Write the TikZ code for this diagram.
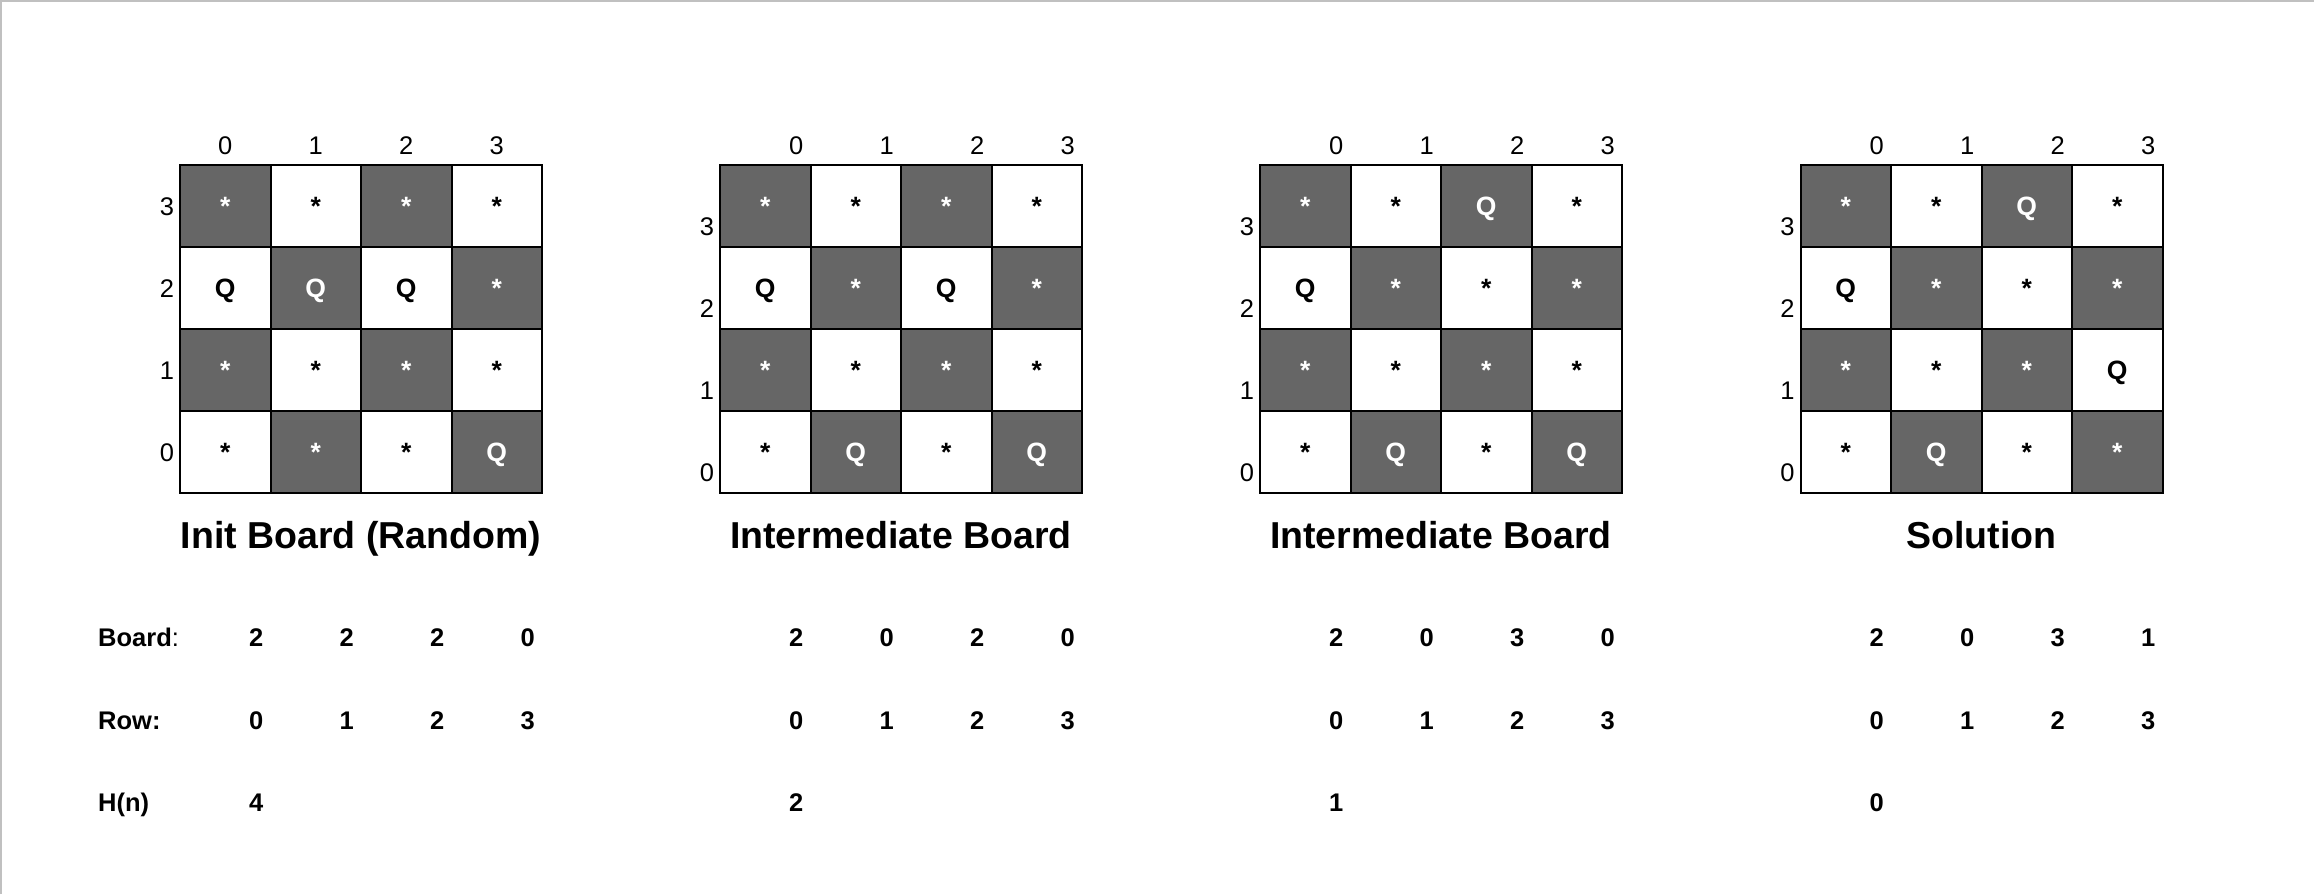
\documentclass[tikz,border=0pt]{standalone}
\usepackage{fontspec}
\setmainfont{Liberation Sans}
\definecolor{darkcell}{HTML}{666666}
\definecolor{framegray}{HTML}{C0C0C0}
\tikzset{
  cellbox/.style={draw=black, line width=2pt, minimum width=90.5pt, minimum height=82pt, inner sep=0pt, outer sep=0pt},
  celltxt/.style={anchor=base, inner sep=0pt, font=\fontsize{26.5}{30}\selectfont\bfseries},
  axislbl/.style={anchor=base, inner sep=0pt, font=\fontsize{25.5}{30}\selectfont},
  titletxt/.style={anchor=base, inner sep=0pt, font=\fontsize{37.5}{44}\selectfont\bfseries},
  datatxt/.style={anchor=base, inner sep=0pt, font=\fontsize{25.5}{30}\selectfont\bfseries},
  datalbl/.style={anchor=base west, inner sep=0pt, font=\fontsize{25.5}{30}\selectfont\bfseries},
}
% #1 id, #2 left x, #3 column-label x offset, #4 row-label y offset, #5 title, #6-#9 rows 3..0
\newcommand{\qboard}[9]{%
  \foreach \rowdata [count=\ri from 0] in {{#6},{#7},{#8},{#9}} {
    \foreach \qv [count=\ci from 0] in \rowdata {
      \pgfmathtruncatemacro{\rr}{3-\ri}
      \pgfmathtruncatemacro{\oddc}{mod(\ci+\rr,2)}
      \ifnum\oddc=1 \def\fillc{darkcell}\def\textc{white}\else\def\fillc{white}\def\textc{black}\fi
      \node[cellbox, fill=\fillc] (c#1-\ci-\rr) at ({#2+45.25+90.5*\ci},{206+82*\ri}) {};
      \node[celltxt, text=\textc] (t#1-\ci-\rr) at ([yshift=-9.5pt]c#1-\ci-\rr.center) {\qv};
    }
  }
  \foreach \ci in {0,...,3} {
    \node[axislbl] (x#1-\ci) at ({#2+45.25+90.5*\ci+#3}, 154) {\ci};
  }
  \foreach \rr in {0,...,3} {
    \node[axislbl] (y#1-\rr) at ({#2-13}, {215.5+82*(3-\rr)+#4}) {\rr};
  }
  \node[titletxt] (title#1) at ({#2+181}, 548) {#5};
}
\begin{document}
\begin{tikzpicture}[x=1pt, y=-1pt]
\useasboundingbox (0,0) rectangle (2314,894);
\fill[white] (0,0) rectangle (2314,894);
\draw[framegray, line width=2pt] (1,894) -- (1,1) -- (2314,1);

\qboard{1}{180}{0}{0}{Init Board (Random)}{*,*,*,*}{Q,Q,Q,*}{*,*,*,*}{*,*,*,Q}
\qboard{2}{720}{31}{20}{Intermediate Board}{*,*,*,*}{Q,*,Q,*}{*,*,*,*}{*,Q,*,Q}
\qboard{3}{1260}{31}{20}{Intermediate Board}{*,*,Q,*}{Q,*,*,*}{*,*,*,*}{*,Q,*,Q}
\qboard{4}{1800.5}{31}{20}{Solution}{*,*,Q,*}{Q,*,*,*}{*,*,*,Q}{*,Q,*,*}

\node[datalbl] (lblboard) at (98,646) {Board\textmd{:}};
\node[datalbl] (lblrow) at (98,729) {Row:};
\node[datalbl] (lblh) at (98,811) {H(n)};

\foreach \bi/\bx/\vals/\hv in {1/180/{2,2,2,0}/4, 2/720/{2,0,2,0}/2, 3/1260/{2,0,3,0}/1, 4/1800.5/{2,0,3,1}/0} {
  \foreach \v [count=\ci from 0] in \vals {
    \node[datatxt] (bv\bi-\ci) at ({\bx+76.25+90.5*\ci}, 646) {\v};
    \node[datatxt] (rv\bi-\ci) at ({\bx+76.25+90.5*\ci}, 729) {\ci};
  }
  \node[datatxt] (hv\bi) at ({\bx+76.25}, 811) {\hv};
}
\end{tikzpicture}
\end{document}
